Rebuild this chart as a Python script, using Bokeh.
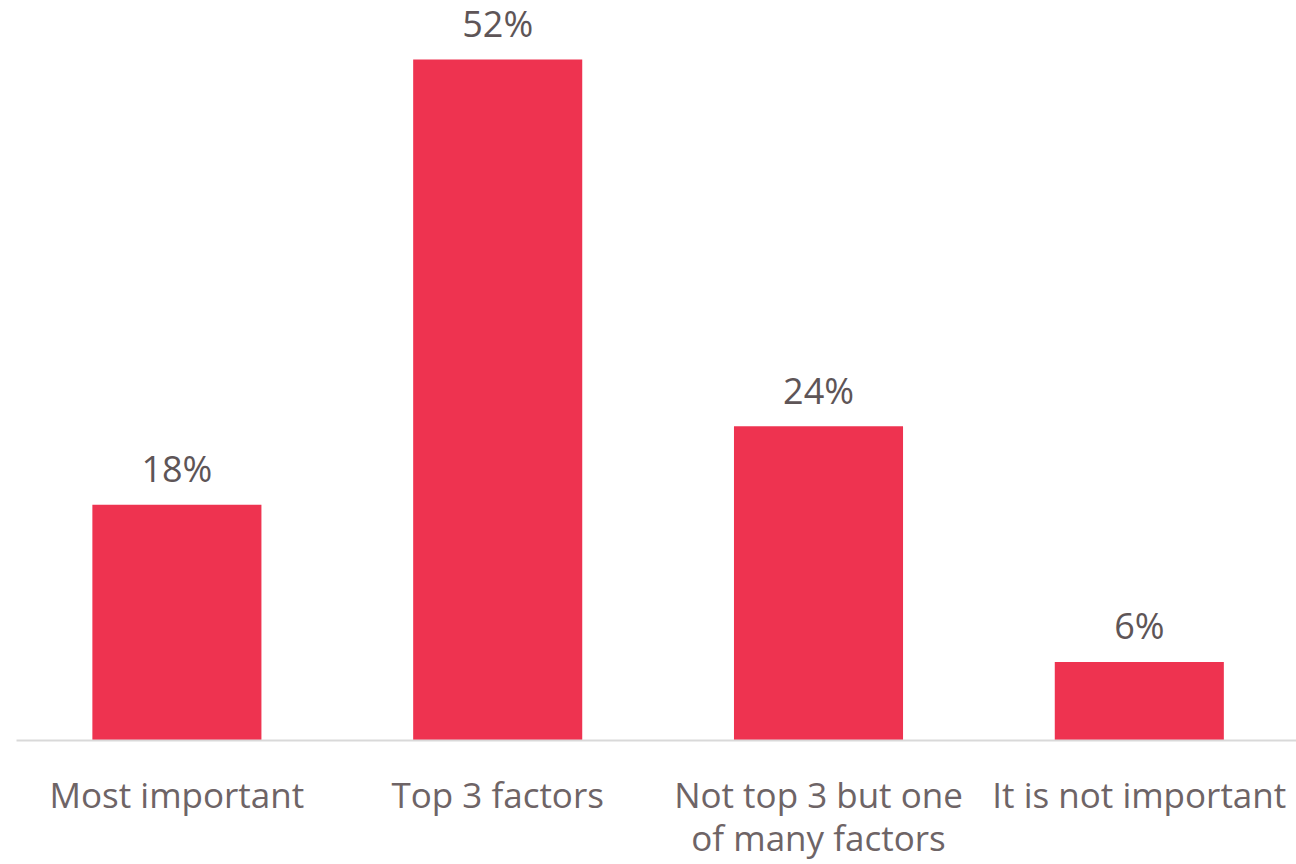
from bokeh.plotting import figure
from bokeh.models import Range1d, FixedTicker, ColumnDataSource
from bokeh.core.properties import value
from bokeh.embed import file_html
from bokeh.resources import INLINE

categories = ["Most important", "Top 3 factors", "Not top 3 but one\nof many factors", "It is not important"]
values = [18, 52, 24, 6]
labels = ["18%", "52%", "24%", "6%"]

xs = [i + 0.5 for i in range(len(categories))]
src = ColumnDataSource(dict(x=xs, top=values, label=labels))

FONT = "Open Sans"
TEXT_COLOR = "#6e6466"

p = figure(width=1296, height=864, output_backend="svg", toolbar_location=None,
           x_range=Range1d(0, 3.99), y_range=Range1d(0, 56.5),
           min_border_left=16, min_border_right=0, min_border_top=0, min_border_bottom=124)
p.outline_line_color = None
p.grid.grid_line_color = None
p.yaxis.visible = False

p.vbar(x="x", top="top", width=0.527, bottom=0, source=src,
       fill_color="#ee3350", line_color=None)

p.text(x="x", y="top", text="label", source=src, text_align="center",
       text_baseline="alphabetic", y_offset=-36,
       text_font=value(FONT), text_font_size="36px", text_color="#5e5557")

xa = p.xaxis[0]
xa.ticker = FixedTicker(ticks=xs)
xa.major_label_overrides = {x: c for x, c in zip(xs, categories)}
xa.major_tick_line_color = None
xa.minor_tick_line_color = None
xa.axis_line_color = "#d9d9d9"
xa.axis_line_width = 2
xa.major_label_standoff = 24
xa.major_label_text_font = FONT
xa.major_label_text_font_size = "35px"
xa.major_label_text_line_height = 0.92
xa.major_label_text_color = TEXT_COLOR

open("out.html", "w").write(file_html(p, INLINE))
